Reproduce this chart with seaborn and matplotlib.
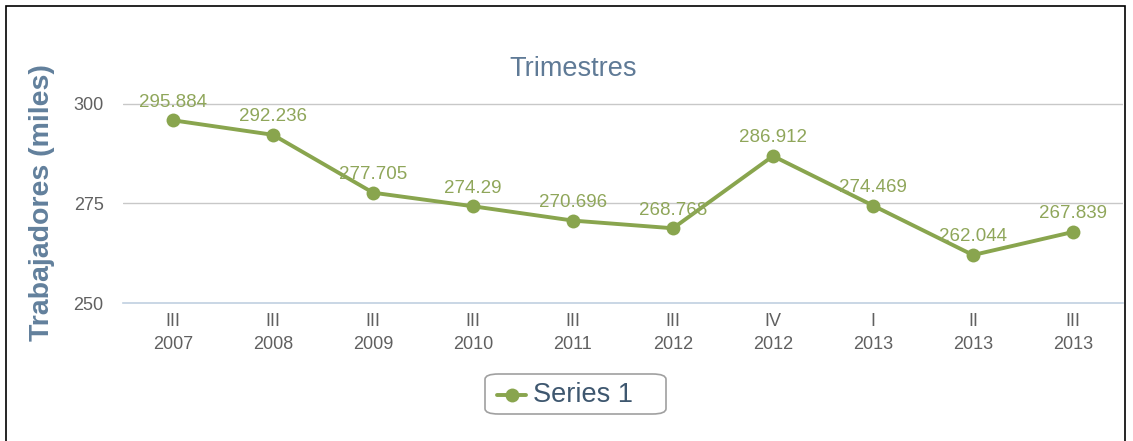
import matplotlib
matplotlib.use("Agg")
import matplotlib.pyplot as plt
import matplotlib.patches as mpatches
from matplotlib.lines import Line2D
import seaborn as sns
import pandas as pd
import numpy as np

# Quarterly employment figures (thousands of workers)
quarters = ["III", "III", "III", "III", "III", "III", "IV", "I", "II", "III"]
years = ["2007", "2008", "2009", "2010", "2011", "2012", "2012", "2013", "2013", "2013"]
values = [295.884, 292.236, 277.705, 274.29, 270.696, 268.768, 286.912, 274.469, 262.044, 267.839]
labels = ["295.884", "292.236", "277.705", "274.29", "270.696", "268.768",
          "286.912", "274.469", "262.044", "267.839"]
y_ticks = [250, 275, 300]

GREEN = "#89A54E"
TICK_GREY = "#606060"
AXIS_BLUE = "#C0D0E0"

sns.set_theme(style="white")
plt.rcParams["font.family"] = ["Liberation Sans", "DejaVu Sans"]

df = pd.DataFrame({"pos": np.arange(len(values)), "value": values})

fig = plt.figure(figsize=(11.33, 4.41), dpi=100)
W, H = 1133, 441
left, right = 123, 1123
top, bottom = 84, 303
ax = fig.add_axes([left / W, (H - bottom) / H, (right - left) / W, (bottom - top) / H])

sns.lineplot(data=df, x="pos", y="value", ax=ax, color=GREEN, linewidth=2.8,
             marker="o", markersize=10, markeredgewidth=0, legend=False, zorder=3)

ax.set_xlim(-0.5, len(values) - 0.5)
ax.set_ylim(250, 305)

# Horizontal gridlines
for yv in y_ticks[1:]:
    ax.axhline(yv, color="#C8C8C8", linewidth=1, zorder=1)
for s in ["top", "right", "left"]:
    ax.spines[s].set_visible(False)
ax.spines["bottom"].set_color(AXIS_BLUE)
ax.spines["bottom"].set_linewidth(1.2)

ax.set_yticks(y_ticks)
ax.set_yticklabels([str(v) for v in y_ticks], color=TICK_GREY, fontsize=13)
ax.tick_params(axis="y", length=0, pad=14)

# Category ticks at boundaries, labels at centres
ax.set_xticks(np.arange(len(values)))
ax.set_xticklabels([f"{q}\n{y}" for q, y in zip(quarters, years)],
                   color=TICK_GREY, fontsize=13, linespacing=1.5)
ax.tick_params(axis="x", length=0, pad=7)
ax.set_xticks(np.arange(len(values) + 1) - 0.5, minor=True)
ax.tick_params(axis="x", which="minor", length=6, width=1, color=AXIS_BLUE, direction="out")
ax.set_xlabel("")
ax.set_ylabel("")

# Value labels above each point
for i, (v, lab) in enumerate(zip(values, labels)):
    ax.annotate(lab, (i, v), xytext=(0, 7), textcoords="offset points",
                ha="center", va="bottom", color="#8FA65A", fontsize=13.5, zorder=4)

# Title and axis title
fig.text(573 / W, 1 - 69 / H, "Trimestres", ha="center", va="center",
         color="#5F7A96", fontsize=19.5)
fig.text(42 / W, 1 - 203 / H, "Trabajadores (miles)", ha="center", va="center",
         rotation=90, color="#62809C", fontsize=20.5, fontweight="bold")

# Legend box
leg_box = mpatches.FancyBboxPatch((485 / W, 1 - 414 / H), 181 / W, 40 / H,
                                  boxstyle="round,pad=0,rounding_size=0.012",
                                  transform=fig.transFigure, facecolor="white",
                                  edgecolor="#A0A0A0", linewidth=1.2)
fig.patches.append(leg_box)
fig.add_artist(Line2D([497 / W, 526 / W], [1 - 395 / H, 1 - 395 / H], color=GREEN,
                      linewidth=2.8, transform=fig.transFigure))
fig.add_artist(Line2D([511.5 / W], [1 - 395 / H], color=GREEN, marker="o",
                      markersize=10, markeredgewidth=0, transform=fig.transFigure))
fig.text(533 / W, 1 - 395 / H, "Series 1", ha="left", va="center",
         color="#3E576F", fontsize=19.5)

# Outer frame
frame = mpatches.Rectangle((6 / W, -0.05), 1119 / W, 1.05 - 6 / H, transform=fig.transFigure,
                           fill=False, edgecolor="black", linewidth=1.2)
fig.patches.append(frame)

fig.savefig("out.png", dpi=100, facecolor="white")
